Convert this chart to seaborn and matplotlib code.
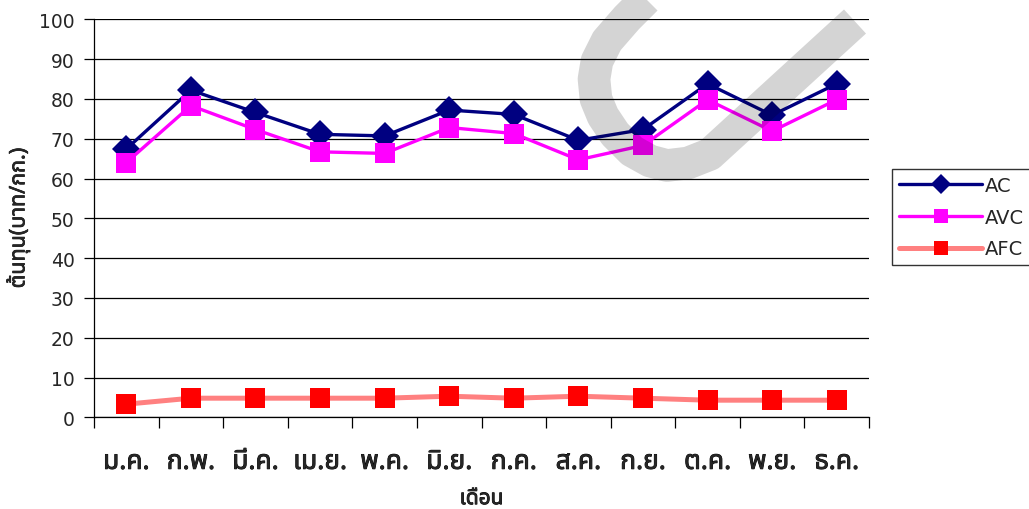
import matplotlib
matplotlib.use("Agg")
import matplotlib.pyplot as plt
import matplotlib.patheffects as pe
import numpy as np
import pandas as pd
import seaborn as sns
from matplotlib import font_manager as fm, ft2font
from matplotlib.path import Path
from matplotlib.patches import PathPatch
from matplotlib.ticker import FixedLocator

# Monthly average cost per kilogram (baht)
months = ["ม.ค.", "ก.พ.", "มี.ค.", "เม.ย.", "พ.ค.", "มิ.ย.",
          "ก.ค.", "ส.ค.", "ก.ย.", "ต.ค.", "พ.ย.", "ธ.ค."]
ac = [67.4, 82.2, 76.6, 71.1, 70.7, 77.2, 76.1, 69.6, 72.3, 83.8, 75.9, 83.8]
avc = [64.0, 78.3, 72.3, 66.7, 66.3, 72.8, 71.3, 64.7, 68.3, 79.8, 71.9, 79.8]
afc = [3.3, 4.8, 4.8, 4.8, 4.8, 5.3, 4.8, 5.3, 4.8, 4.3, 4.3, 4.3]
series_names = ["AC", "AVC", "AFC"]
y_ticks = list(range(0, 101, 10))
x_title = "เดือน"
y_title = "ต้นทุน(บาท/กก.)"


def find_thai_family():
    """Return the name of an installed family that covers the Thai block."""
    preferred = ["Tahoma", "Noto Sans Thai", "Noto Sans Thai UI", "Loma",
                 "Garuda", "Sarabun", "Waree", "Umpush", "Norasi", "Kinnari"]
    found = {}
    for entry in fm.fontManager.ttflist:
        if entry.name in found:
            continue
        try:
            cmap = ft2font.FT2Font(entry.fname).get_charmap()
        except Exception:
            continue
        if 0x0E01 in cmap and 0x0E19 in cmap and 0x0E40 in cmap:
            found[entry.name] = entry
    for name in preferred:
        if name in found:
            return name
    return next(iter(found), None)


sns.set_style("white")
thai = find_thai_family()
thai_fam = [thai, "DejaVu Sans"] if thai else ["DejaVu Sans"]
plt.rcParams["font.family"] = ["DejaVu Sans"]

# faux-bold outline for the Thai captions
heavy = [pe.withStroke(linewidth=0.6, foreground="black")]

df = pd.DataFrame({
    "month": months * 3,
    "cost": ac + avc + afc,
    "series": np.repeat(series_names, len(months)),
})

styles = {
    "AC": dict(color="#000080", lw=2.4, marker="D", ms=14.5),
    "AVC": dict(color="#FF00FF", lw=2.4, marker="s", ms=14.5),
    "AFC": dict(color="#FF8080", lw=3.6, marker="s", ms=14.5, mfc="#FF0000"),
}

fig = plt.figure(figsize=(10.29, 5.10), dpi=100)
ax = fig.add_axes([94 / 1029, 1 - 418.3 / 510, 775 / 1029, 398 / 510])

for name in series_names:
    st = styles[name]
    sub = df[df["series"] == name]
    sns.lineplot(data=sub, x="month", y="cost", ax=ax, sort=False,
                 color=st["color"], linewidth=st["lw"], marker=st["marker"],
                 markersize=st["ms"],
                 markerfacecolor=st.get("mfc", st["color"]),
                 markeredgecolor=st.get("mfc", st["color"]),
                 markeredgewidth=0, label=name)

ax.set_xlim(-0.5, len(months) - 0.5)
ax.set_ylim(0, 100)
ax.yaxis.set_major_locator(FixedLocator(y_ticks))
ax.yaxis.grid(True, color="black", lw=0.9)
ax.xaxis.grid(False)
ax.set_axisbelow(True)

for side in ("top", "right"):
    ax.spines[side].set_visible(False)
for side in ("left", "bottom"):
    ax.spines[side].set_color("black")
    ax.spines[side].set_linewidth(0.9)

ax.tick_params(axis="y", direction="out", length=7, width=0.9, color="black",
               labelsize=13.5, pad=7, left=True)
ax.xaxis.set_minor_locator(FixedLocator(np.arange(-0.5, len(months), 1.0)))
ax.tick_params(axis="x", which="major", length=0, pad=22)
ax.tick_params(axis="x", which="minor", direction="out", length=8,
               width=0.9, color="black", bottom=True)
ax.set_xticks(range(len(months)))
ax.set_xticklabels(months, fontsize=19, family=thai_fam)
for lab in ax.get_xticklabels():
    lab.set_path_effects(heavy)

ax.set_xlabel(x_title, fontsize=15, family=thai_fam)
ax.set_ylabel(y_title, fontsize=15.5, family=thai_fam)
ax.xaxis.label.set_path_effects(heavy)
ax.yaxis.label.set_path_effects([pe.withStroke(linewidth=0.45, foreground="black")])
ax.xaxis.set_label_coords(0.5, -0.178)
ax.yaxis.set_label_coords(-0.082, 0.5)

leg = ax.legend(loc="upper left", bbox_to_anchor=(892 / 1029, 1 - 170 / 510),
                bbox_transform=fig.transFigure, borderaxespad=0,
                fontsize=14, frameon=True, fancybox=False, edgecolor="black",
                handlelength=4.3, handletextpad=0.15, borderpad=0.35,
                labelspacing=0.66, markerscale=0.7)
leg.get_frame().set_linewidth(1.0)

# Grey watermark stroke laid across the upper right of the plot
pts = [(676, -32), (652, -6), (627, 19), (607, 42), (597, 62), (594, 80),
       (596, 100), (603, 117), (615, 135), (632, 152), (650, 162),
       (667, 166.5), (688, 164), (709.6, 155.5), (855, 22.5)]
verts = [(x / 1029, 1 - y / 510) for x, y in pts]
mark = PathPatch(Path(verts), transform=fig.transFigure, fill=False,
                 edgecolor=(0, 0, 0, 0.17), lw=23.5, capstyle="butt",
                 joinstyle="round", zorder=10)
fig.patches.append(mark)

fig.savefig("out.png", dpi=100)
